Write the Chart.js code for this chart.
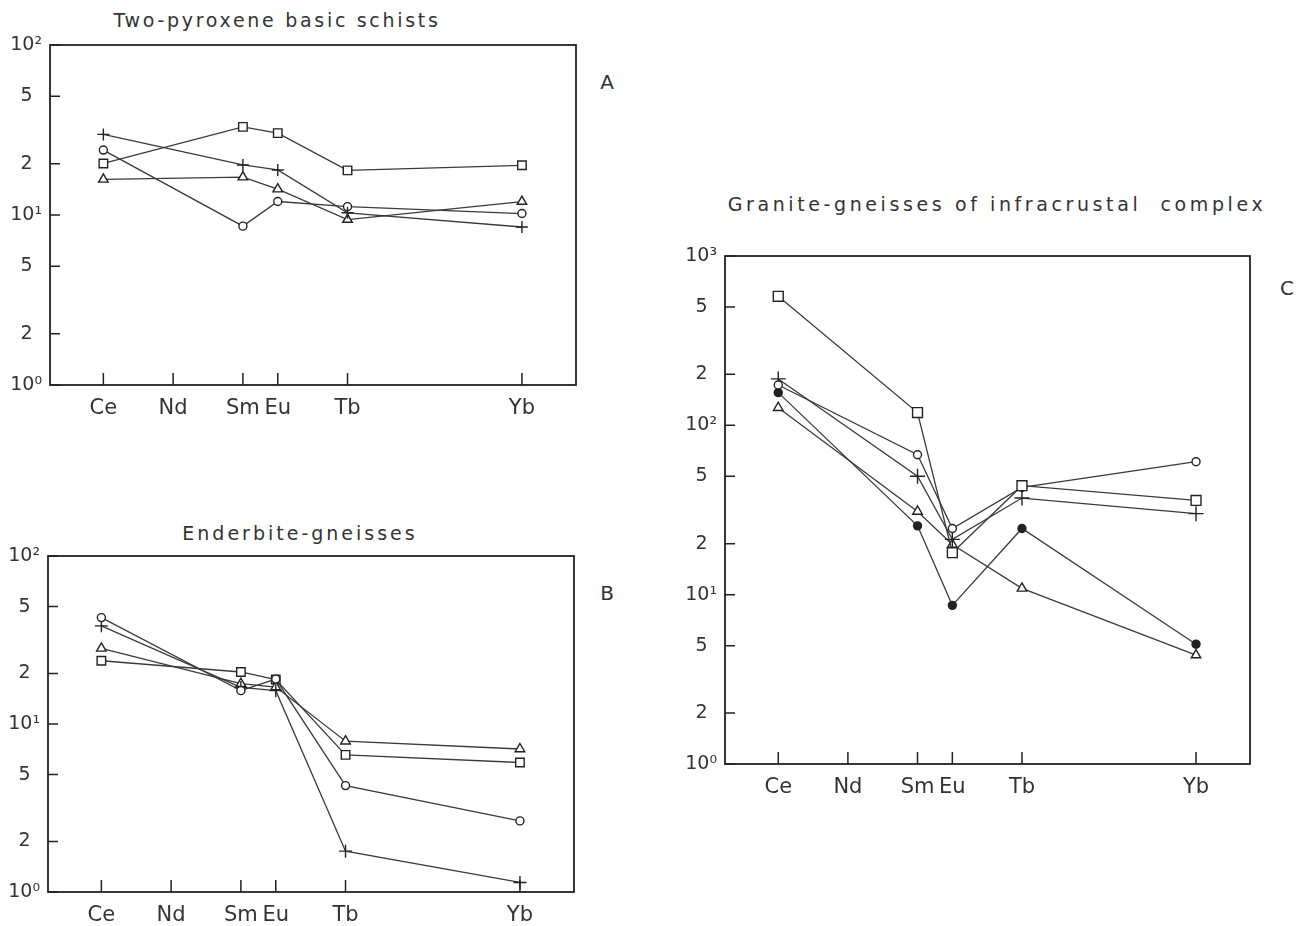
<!DOCTYPE html>
<html>
<head>
<meta charset="utf-8">
<script src="https://cdn.jsdelivr.net/npm/chart.js@4.4.1/dist/chart.umd.min.js"></script>
<style>
  body { margin: 0; background: #fff; width: 1303px; height: 926px; position: relative; overflow: hidden;
         font-family: 'DejaVu Sans', sans-serif; color: #333; }
  canvas { position: absolute; }
  .title { position: absolute; font-size: 19px; white-space: pre; transform: translate(-50%, -50%); }
  .tag { position: absolute; font-size: 20px; transform: translate(-50%, -50%); }
</style>
</head>
<body>
<div class="title" style="left:277px; top:20px; letter-spacing:2.7px">Two-pyroxene basic schists</div>
<div class="title" style="left:300px; top:533px; letter-spacing:3px">Enderbite-gneisses</div>
<div class="title" style="left:997px; top:204px; letter-spacing:3.6px">Granite-gneisses of infracrustal  complex</div>
<div class="tag" style="left:607px; top:82px">A</div>
<div class="tag" style="left:607px; top:593px">B</div>
<div class="tag" style="left:1287px; top:288px">C</div>

<canvas id="chartA" width="640" height="440" style="left:0; top:0"></canvas>
<canvas id="chartB" width="640" height="426" style="left:0; top:500px"></canvas>
<canvas id="chartC" width="623" height="660" style="left:680px; top:180px"></canvas>

<script>
// element positions on the x axis (atomic number)
const elements = ['Ce', 'Nd', 'Sm', 'Eu', 'Tb', 'Yb'];
const atomicNumbers = [58, 60, 62, 63, 65, 70];
// elements actually analysed: Ce, Sm, Eu, Tb, Yb
const analysed = [58, 62, 63, 65, 70];

const ticksTwoDecades = [1, 2, 5, 10, 20, 50, 100];
const ticksThreeDecades = [1, 2, 5, 10, 20, 50, 100, 200, 500, 1000];

// A - two-pyroxene basic schists
const schistPlus = [29.8, 19.7, 18.4, 10.3, 8.5];
const schistSquare = [20.1, 33, 30.3, 18.3, 19.6];
const schistCircle = [24.1, 8.6, 12, 11.2, 10.2];
const schistTriangle = [16.2, 16.7, 14.2, 9.4, 12];

// B - enderbite-gneisses
const enderbiteCircle = [43, 15.8, 18.5, 4.3, 2.65];
const enderbitePlus = [38.4, 16.5, 15.8, 1.75, 1.14];
const enderbiteTriangle = [28.2, 17.4, 16.6, 7.9, 7.1];
const enderbiteSquare = [23.8, 20.4, 18.4, 6.55, 5.9];

// C - granite-gneisses of infracrustal complex
const graniteSquare = [578, 119, 17.7, 44, 36];
const graniteCircle = [173, 67, 24.6, 43, 61];
const granitePlus = [188, 50, 21.2, 37.2, 30.1];
const graniteDot = [156, 25.5, 8.65, 24.6, 5.1];
const graniteTriangle = [127, 31, 19.8, 10.9, 4.4];

Chart.defaults.font.family = "'DejaVu Sans', sans-serif";
Chart.defaults.color = '#333';

const superscripts = { 0: '\u2070', 1: '\u00B9', 2: '\u00B2', 3: '\u00B3' };

function series(values, style, radius, filled) {
    return {
        data: analysed.map((x, i) => ({ x: x, y: values[i] })),
        borderColor: '#3a3a3a',
        borderWidth: 1.3,
        pointStyle: style,
        pointRadius: radius,
        pointBorderWidth: 1.4,
        pointBorderColor: '#222',
        pointBackgroundColor: filled ? '#222' : '#fff',
        tension: 0,
        clip: false
    };
}

// box around the plot and inward tick marks
const framePlugin = {
    id: 'frame',
    beforeDatasetsDraw(chart) {
        const { ctx, chartArea: a, scales: { x, y } } = chart;
        ctx.save();
        ctx.strokeStyle = '#222';
        ctx.lineWidth = 1.8;
        ctx.strokeRect(a.left, a.top, a.right - a.left, a.bottom - a.top);
        ctx.lineWidth = 1.5;
        ctx.beginPath();
        y.ticks.forEach(t => {
            const py = y.getPixelForValue(t.value);
            ctx.moveTo(a.left, py);
            ctx.lineTo(a.left + 10, py);
        });
        x.ticks.forEach(t => {
            const px = x.getPixelForValue(t.value);
            ctx.moveTo(px, a.bottom);
            ctx.lineTo(px, a.bottom - 12);
        });
        ctx.stroke();
        ctx.restore();
    }
};

function buildChart(id, datasets, yTicks, yWidth, padding) {
    return new Chart(document.getElementById(id), {
        type: 'line',
        data: { datasets: datasets },
        options: {
            responsive: false,
            animation: false,
            events: [],
            layout: { padding: padding },
            plugins: { legend: { display: false }, tooltip: { enabled: false } },
            scales: {
                x: {
                    type: 'linear',
                    min: 56.47,
                    max: 71.55,
                    afterBuildTicks: axis => { axis.ticks = atomicNumbers.map(v => ({ value: v })); },
                    afterFit: axis => { axis.height = 30; },
                    grid: { display: false, drawTicks: false },
                    border: { display: false },
                    ticks: {
                        autoSkip: false,
                        maxRotation: 0,
                        padding: 11,
                        font: { size: 21 },
                        callback: v => elements[atomicNumbers.indexOf(v)]
                    }
                },
                y: {
                    type: 'logarithmic',
                    min: yTicks[0],
                    max: yTicks[yTicks.length - 1],
                    afterBuildTicks: axis => { axis.ticks = yTicks.map(v => ({ value: v })); },
                    afterFit: axis => { axis.width = yWidth; },
                    grid: { display: false, drawTicks: false },
                    border: { display: false },
                    ticks: {
                        autoSkip: false,
                        padding: 8,
                        font: { size: 19 },
                        callback: v => {
                            const e = Math.round(Math.log10(v));
                            if (Math.abs(Math.pow(10, e) - v) < 1e-9) return '10' + superscripts[e];
                            return String(Math.round(v / Math.pow(10, Math.floor(Math.log10(v) + 1e-9)))) + '\u2002';
                        }
                    }
                }
            }
        },
        plugins: [framePlugin]
    });
}

buildChart('chartA', [
    series(schistPlus, 'cross', 6),
    series(schistSquare, 'rect', 6),
    series(schistCircle, 'circle', 4),
    series(schistTriangle, 'triangle', 5.5)
], ticksTwoDecades, 50, { top: 45, right: 64, bottom: 25, left: 0 });

buildChart('chartB', [
    series(enderbiteCircle, 'circle', 4),
    series(enderbitePlus, 'cross', 6.5),
    series(enderbiteTriangle, 'triangle', 5.5),
    series(enderbiteSquare, 'rect', 6)
], ticksTwoDecades, 48, { top: 56, right: 66, bottom: 4, left: 0 });

buildChart('chartC', [
    series(graniteSquare, 'rect', 7),
    series(graniteCircle, 'circle', 4),
    series(granitePlus, 'cross', 7.5),
    series(graniteDot, 'circle', 4, true),
    series(graniteTriangle, 'triangle', 5.5)
], ticksThreeDecades, 45, { top: 76, right: 53, bottom: 46, left: 0 });
</script>
</body>
</html>
